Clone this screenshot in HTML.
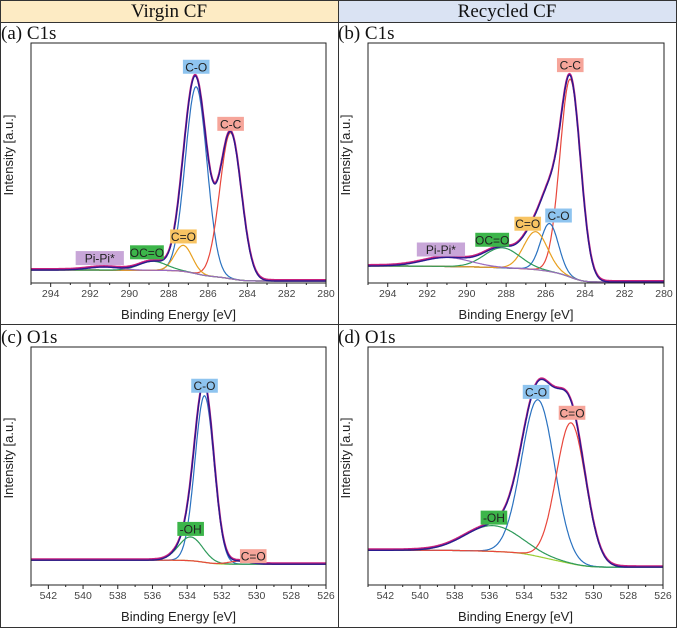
<!DOCTYPE html>
<html><head><meta charset="utf-8"><style>
html,body{margin:0;padding:0;background:#fff;}
svg{display:block;}
</style></head><body>
<svg id="fig" width="677" height="628" xmlns="http://www.w3.org/2000/svg">
<rect x="0" y="0" width="338" height="22" fill="#fdebc4"/>
<rect x="338" y="0" width="339" height="22" fill="#dae3f3"/>
<text x="169" y="17" text-anchor="middle" font-family="Liberation Serif, serif" font-size="19" fill="#111">Virgin CF</text>
<text x="507" y="17" text-anchor="middle" font-family="Liberation Serif, serif" font-size="19" fill="#111">Recycled CF</text>
<rect x="0.5" y="0.5" width="676" height="627" fill="none" stroke="#333"/>
<line x1="0" y1="22.5" x2="677" y2="22.5" stroke="#333"/>
<line x1="0" y1="324.5" x2="677" y2="324.5" stroke="#333"/>
<line x1="338.5" y1="0" x2="338.5" y2="628" stroke="#333"/>
</svg>
<script>
// Panel (a) C1s virgin
const aNames=["C-O","C-C","C=O","OC=O","Pi-Pi*"];
const aCenters=[286.6,284.85,287.25,288.8,291.3];
const aHeights=[187,146,26,9,3];
const aSigmas=[0.55,0.55,0.45,0.7,0.8];
const aBg=[13,2];
// Panel (b) C1s recycled
const bNames=["C-C","C-O","C=O","OC=O","Pi-Pi*"];
const bCenters=[284.75,285.8,286.5,288.2,291.0];
const bHeights=[198,48,38,20,9];
const bSigmas=[0.52,0.45,0.6,0.9,1.2];
const bBg=[17,1];
// Panel (c) O1s virgin
const cNames=["C-O","-OH","C=O"];
const cCenters=[533.0,533.8,531.0];
const cHeights=[168,24,3];
const cSigmas=[0.55,0.7,0.6];
const cBg=[25,21];
// Panel (d) O1s recycled
const dNames=["C-O","C=O","-OH"];
const dCenters=[533.2,531.3,535.8];
const dHeights=[158,142,26];
const dSigmas=[0.95,0.85,1.6];
const dBg=[35,18];
const c1sTicks=[294,292,290,288,286,284,282,280];
const o1sTicks=[542,540,538,536,534,532,530,528,526];

const NS="http://www.w3.org/2000/svg";
const svg=document.getElementById('fig');
function el(tag,attrs,parent){const e=document.createElementNS(NS,tag);for(const k in attrs)e.setAttribute(k,attrs[k]);(parent||svg).appendChild(e);return e;}
const colors={"C-O":"#2a72c0","C-C":"#e8473c","C=O":"#e8a020","OC=O":"#2e9a5a","Pi-Pi*":"#9a6ac0","-OH":"#2e9a5a"};
const colorsO={"C=O":"#e8473c"};
const labelBg={"C-O":"#8ec4ef","C-C":"#f6a59a","C=O":"#f8c463","OC=O":"#3cb54a","Pi-Pi*":"#c8a6d8","-OH":"#3cb54a"};
const labelBgO={"C=O":"#f6a59a"};

function panel(p){
  const g=el('g',{});
  
  
  const xs=v=>p.x0+(p.xmax-v)/(p.xmax-p.xmin)*(p.x1-p.x0);
  const ys=v=>p.y1-v/240*(p.y1-p.y0);
  const N=400,xsArr=[],comps=p.centers.map(()=>[]);
  for(let i=0;i<=N;i++){const e=p.xmin+(p.xmax-p.xmin)*i/N;xsArr.push(e);
    p.centers.forEach((c,k)=>comps[k].push(p.heights[k]*Math.exp(-((e-c)**2)/(2*p.sigmas[k]**2))));}
  const tot=xsArr.map((e,i)=>comps.reduce((s,cc)=>s+cc[i],0));
  const cum=[0];for(let i=1;i<=N;i++)cum.push(cum[i-1]+tot[i]);
  const bg=cum.map(v=>p.bg[1]+(p.bg[0]-p.bg[1])*v/cum[N]);
  const path=arr=>arr.map((v,i)=>(i?'L':'M')+xs(xsArr[i]).toFixed(1)+' '+ys(v).toFixed(1)).join('');
  const clip=el('clipPath',{id:'clip'+p.id},g);el('rect',{x:p.x0,y:p.y0,width:p.x1-p.x0,height:p.y1-p.y0},clip);
  const plot=el('g',{'clip-path':'url(#clip'+p.id+')'},g);
  const b=el('path',{d:path(bg),fill:'none',stroke:'#9acd32','stroke-width':1.2},plot);
  
  
  comps.forEach((cc,k)=>{const n=p.names[k];const col=(p.o1s&&colorsO[n])||colors[n];
    const pe=el('path',{d:path(cc.map((v,i)=>v+bg[i])),fill:'none',stroke:col,'stroke-width':1.2},plot);
    
    });
  const raw=el('path',{d:path(tot.map((v,i)=>v+bg[i]+1)),fill:'none',stroke:'#c8207e','stroke-width':2},plot);
  
  
  const env=el('path',{d:path(tot.map((v,i)=>v+bg[i])),fill:'none',stroke:'#2a1a90','stroke-width':1.4},plot);
  
  
  el('rect',{x:p.x0,y:p.y0,width:p.x1-p.x0,height:p.y1-p.y0,fill:'none',stroke:'#222','stroke-width':1},g);
  for(let v=Math.ceil(p.xmin);v<=p.xmax;v++){const major=p.ticks.includes(v);
    el('line',{x1:xs(v),x2:xs(v),y1:p.y1,y2:p.y1+(major?4:2),stroke:'#222'},g);}
  p.ticks.forEach(t=>{const tx=el('text',{x:xs(t),y:p.y1+14,'text-anchor':'middle','font-family':'Liberation Sans, sans-serif','font-size':10.5,fill:'#444'},g);
    tx.textContent=t;
    
    });
  const xt=el('text',{x:(p.x0+p.x1)/2,y:p.y1+36,'text-anchor':'middle','font-family':'Liberation Sans, sans-serif','font-size':13,fill:'#222'},g);
  xt.textContent='Binding Energy [eV]';
  
  
  const yx=p.x0-18,yy=(p.y0+p.y1)/2-8;
  const yt=el('text',{x:yx,y:yy,'text-anchor':'middle','font-family':'Liberation Sans, sans-serif','font-size':13,fill:'#222',transform:'rotate(-90 '+yx+' '+yy+')'},g);
  yt.textContent='Intensity [a.u.]';
  
  
  const pt=el('text',{x:p.x0-30,y:p.y0-4,'font-family':'Liberation Serif, serif','font-size':19,fill:'#111'},g);
  pt.textContent=p.title;
  
  
  p.names.forEach((n,k)=>{
    const idx=Math.round((p.centers[k]-p.xmin)/(p.xmax-p.xmin)*N);
    const top=ys(comps[k][idx]+bg[idx]);
    const cx=xs(p.centers[k])+p.ldx[k],cy=top+p.ldy[k];
    const w=n.length*7.2+5;
    const lg=el('g',{},g);
    
    
    el('rect',{x:cx-w/2,y:cy-7,width:w,height:14,fill:(p.o1s&&labelBgO[n])||labelBg[n]},lg);
    const t=el('text',{x:cx,y:cy+4.5,'text-anchor':'middle','font-family':'Liberation Sans, sans-serif','font-size':12,fill:'#222'},lg);
    t.textContent=n;
  });
}
panel({id:'a',title:'(a) C1s',x0:31,x1:326,y0:43,y1:283,xmin:280,xmax:295,ticks:c1sTicks,names:aNames,centers:aCenters,heights:aHeights,sigmas:aSigmas,bg:aBg,ldx:[0,0,0,-6,-4],ldy:[-20,-9,-9,-9,-9]});
panel({id:'b',title:'(b) C1s',x0:368,x1:664,y0:43,y1:283,xmin:280,xmax:295,ticks:c1sTicks,names:bNames,centers:bCenters,heights:bHeights,sigmas:bSigmas,bg:bBg,ldx:[0,9,-8,-10,-6],ldy:[-14,-8,-8,-8,-8]});
panel({id:'c',title:'(c) O1s',x0:31,x1:326,y0:347,y1:585,xmin:526,xmax:543,ticks:o1sTicks,names:cNames,centers:cCenters,heights:cHeights,sigmas:cSigmas,bg:cBg,o1s:true,ldx:[0,0,14],ldy:[-10,-8,-5]});
panel({id:'d',title:'(d) O1s',x0:368,x1:663,y0:347,y1:585,xmin:526,xmax:543,ticks:o1sTicks,names:dNames,centers:dCenters,heights:dHeights,sigmas:dSigmas,bg:dBg,o1s:true,ldx:[-2,1,1],ldy:[-8,-10,-8]});
</script>
</body></html>
